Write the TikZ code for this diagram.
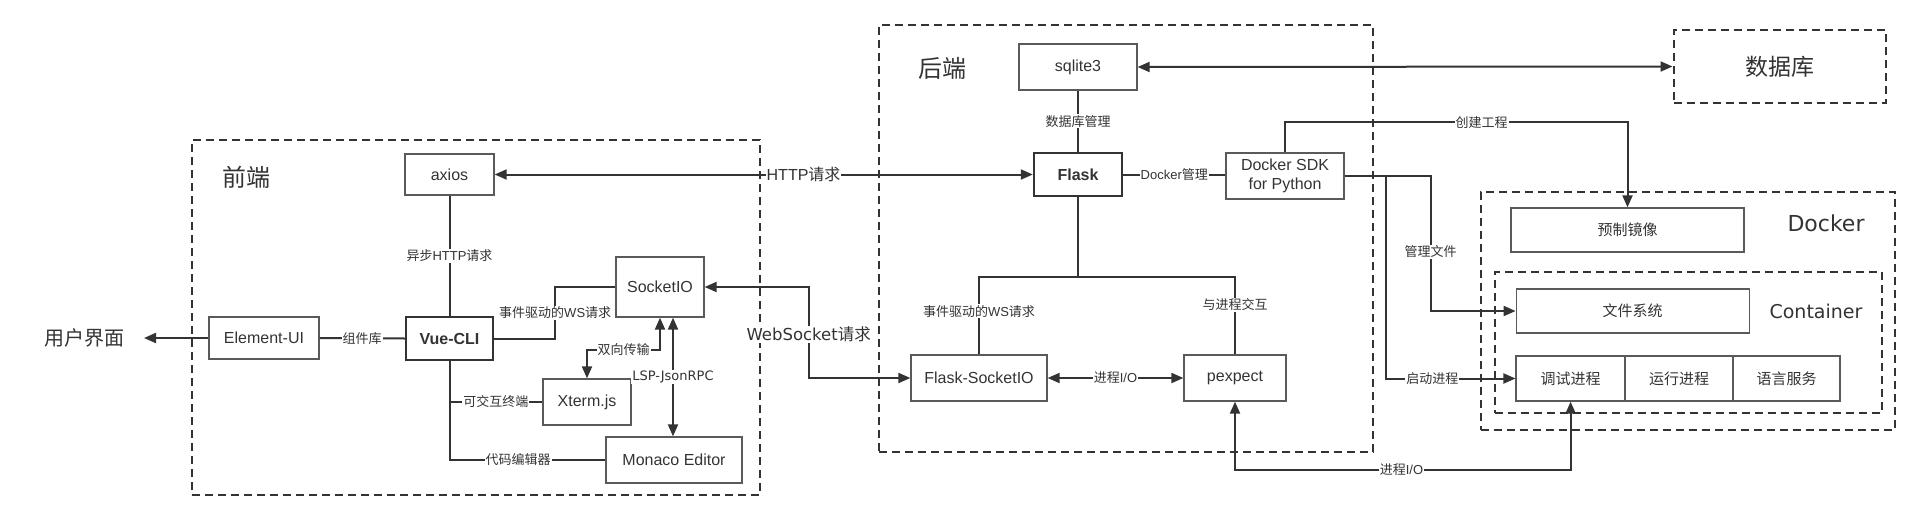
\documentclass[tikz,border=0pt]{standalone}
\usepackage{fontspec}
\setmainfont{Liberation Sans}
\newfontfamily\zhfont{Noto Sans CJK SC}
\newfontfamily\djfont{DejaVu Sans}
\newcommand\zh[1]{{\zhfont #1}}
\usetikzlibrary{arrows.meta}
\definecolor{linec}{HTML}{333333}
\definecolor{boxc}{HTML}{5A5A5A}
\definecolor{txtc}{HTML}{333333}
\begin{document}
\begin{tikzpicture}[x=1pt,y=-1pt,
  >={Triangle[length=12pt,width=10pt]},
  wh/.style 2 args={minimum width=#1, minimum height=#2},
  box/.style={draw=boxc, line width=1.3pt, inner sep=0pt, text=txtc, font=\fontsize{16}{19}\selectfont},
  boldbox/.style={box, draw=linec, line width=2.4pt, font=\fontsize{16}{19}\selectfont\bfseries},
  frame/.style={draw=linec, line width=2pt, dash pattern=on 8pt off 5pt, inner sep=0pt},
  conn/.style={draw=linec, line width=2pt},
  lbl/.style={fill=white, inner sep=1pt, text=txtc, font=\fontsize{13}{15}\selectfont},
  biglbl/.style={text=txtc, inner sep=0pt},
  zhbox/.style={box, font=\fontsize{15}{18}\selectfont\zhfont},
]
\useasboundingbox (0,0) rectangle (1921,522);

% ---------- frames ----------
\node[frame, wh={568}{355}] (fe) at (476,317.5) {};
\node[frame, wh={494}{427}] (be) at (1126,238.5) {};
\node[frame, wh={212}{73}, text=txtc, font=\fontsize{23}{26}\selectfont\zhfont] (db) at (1779.5,66.5) {数据库};
\node[frame, wh={414}{238}] (dk) at (1687.7,310.8) {};
\node[frame, wh={387}{141}] (ct) at (1688,342.5) {};

\node[biglbl, font=\fontsize{24}{28}\selectfont\zhfont] (felbl) at (246,177) {前端};
\node[biglbl, font=\fontsize{24}{28}\selectfont\zhfont] (belbl) at (942,68) {后端};
\node[biglbl, font=\fontsize{22}{26}\selectfont\djfont] (dklbl) at (1826,223) {Docker};
\node[biglbl, font=\fontsize{19}{22}\selectfont\djfont] (ctlbl) at (1816,311) {Container};

% ---------- front end ----------
\node[biglbl, font=\fontsize{20}{24}\selectfont\zhfont] (user) at (84,338) {用户界面};
\coordinate (uend) at (144,338);
\node[box, wh={110}{42}] (elem) at (264,338) {Element-UI};
\node[boldbox, wh={87}{43}] (vue) at (449.5,338.5) {Vue-CLI};
\node[box, wh={89}{41}] (axios) at (449.5,174.5) {axios};
\node[box, wh={88}{60}] (sio) at (660,287) {SocketIO};
\node[box, wh={88}{46}] (xterm) at (587,402) {Xterm.js};
\node[box, wh={136}{46}] (monaco) at (674,460) {Monaco Editor};

% ---------- back end ----------
\node[box, wh={118}{46}] (sqlite) at (1078,67) {sqlite3};
\node[boldbox, wh={88}{43}] (flask) at (1078,174.5) {Flask};
\node[box, wh={118}{46}, align=center] (sdk) at (1285,176) {Docker SDK\\for Python};
\node[box, wh={136}{46}] (fsio) at (979,378) {Flask-SocketIO};
\node[box, wh={102}{46}] (pex) at (1235,378) {pexpect};

% ---------- docker ----------
\node[zhbox, wh={233}{44}] (img) at (1627.5,230) {预制镜像};
\node[zhbox, wh={233}{44}] (fs) at (1632.7,311) {文件系统};
\node[zhbox, wh={109}{45}] (dbg) at (1570.6,378.5) {调试进程};
\node[zhbox, wh={108}{45}] (run) at (1679,378.5) {运行进程};
\node[zhbox, wh={107}{45}] (lang) at (1786.5,378.5) {语言服务};

% ---------- connectors: front end ----------
\draw[conn,->] (elem.west) -- (uend);
\draw[conn] (elem.east) -- node[lbl]{\zh{组件库}} (vue.west);
\draw[conn] (axios.south) -- node[lbl]{\zh{异步}HTTP\zh{请求}} (vue.north);
\draw[conn] (vue.east) -- ++(61,0) |- node[lbl,pos=0.25]{\zh{事件驱动的}WS\zh{请求}} (sio.west);
\draw[conn] (vue.south) |- node[lbl,pos=0.75]{\zh{可交互终端}} (xterm.west);
\draw[conn] (vue.south) |- node[lbl,pos=0.72]{\zh{代码编辑器}} (monaco.west);
\draw[conn,<->] (xterm.north) |- node[lbl,pos=0.75]{\zh{双向传输}} ([yshift=-32pt]sio.south) -- (sio.south);
\draw[conn,<->] ([xshift=13pt]sio.south) -- node[lbl, font=\fontsize{13}{15}\selectfont\djfont]{LSP-JsonRPC} ([xshift=13pt]sio.south |- monaco.north);

% ---------- connectors: front to back ----------
\draw[conn,<->] (axios.east) -- node[lbl,pos=0.574, font=\fontsize{16}{19}\selectfont]{HTTP\zh{请求}} (flask.west);
\draw[conn,<->] (sio.east) -- ++(104,0) |- node[lbl,pos=0.26, font=\fontsize{16.5}{19}\selectfont\djfont]{WebSocket\zh{请求}} (fsio.west);

% ---------- connectors: back end ----------
\draw[conn] (sqlite.south) -- node[lbl]{\zh{数据库管理}} (flask.north);
\draw[conn,<->] (sqlite.east) -- (db.west);
\draw[conn] (flask.east) -- node[lbl]{Docker\zh{管理}} (flask.east -| sdk.west);
\draw[conn] (flask.south) -- ++(0,80) -| node[lbl,pos=0.72]{\zh{事件驱动的}WS\zh{请求}} (fsio.north);
\draw[conn] (flask.south) -- ++(0,80) -| node[lbl,pos=0.68]{\zh{与进程交互}} (pex.north);
\draw[conn,<->] (fsio.east) -- node[lbl]{\zh{进程}I/O} (pex.west);

% ---------- connectors: to docker ----------
\draw[conn,->] (sdk.north) -- ++(0,-30) -| node[lbl,pos=0.287]{\zh{创建工程}} (img.north);
\draw[conn,->] (sdk.east) -- ++(86,0) |- node[lbl,pos=0.28]{\zh{管理文件}} (fs.west);
\draw[conn,->] (sdk.east) -- ++(41,0) |- node[lbl,pos=0.68]{\zh{启动进程}} (dbg.west);
\draw[conn,<->] (pex.south) -- ++(0,68) -| node[lbl,pos=0.248]{\zh{进程}I/O} (dbg.south);
\end{tikzpicture}
\end{document}
